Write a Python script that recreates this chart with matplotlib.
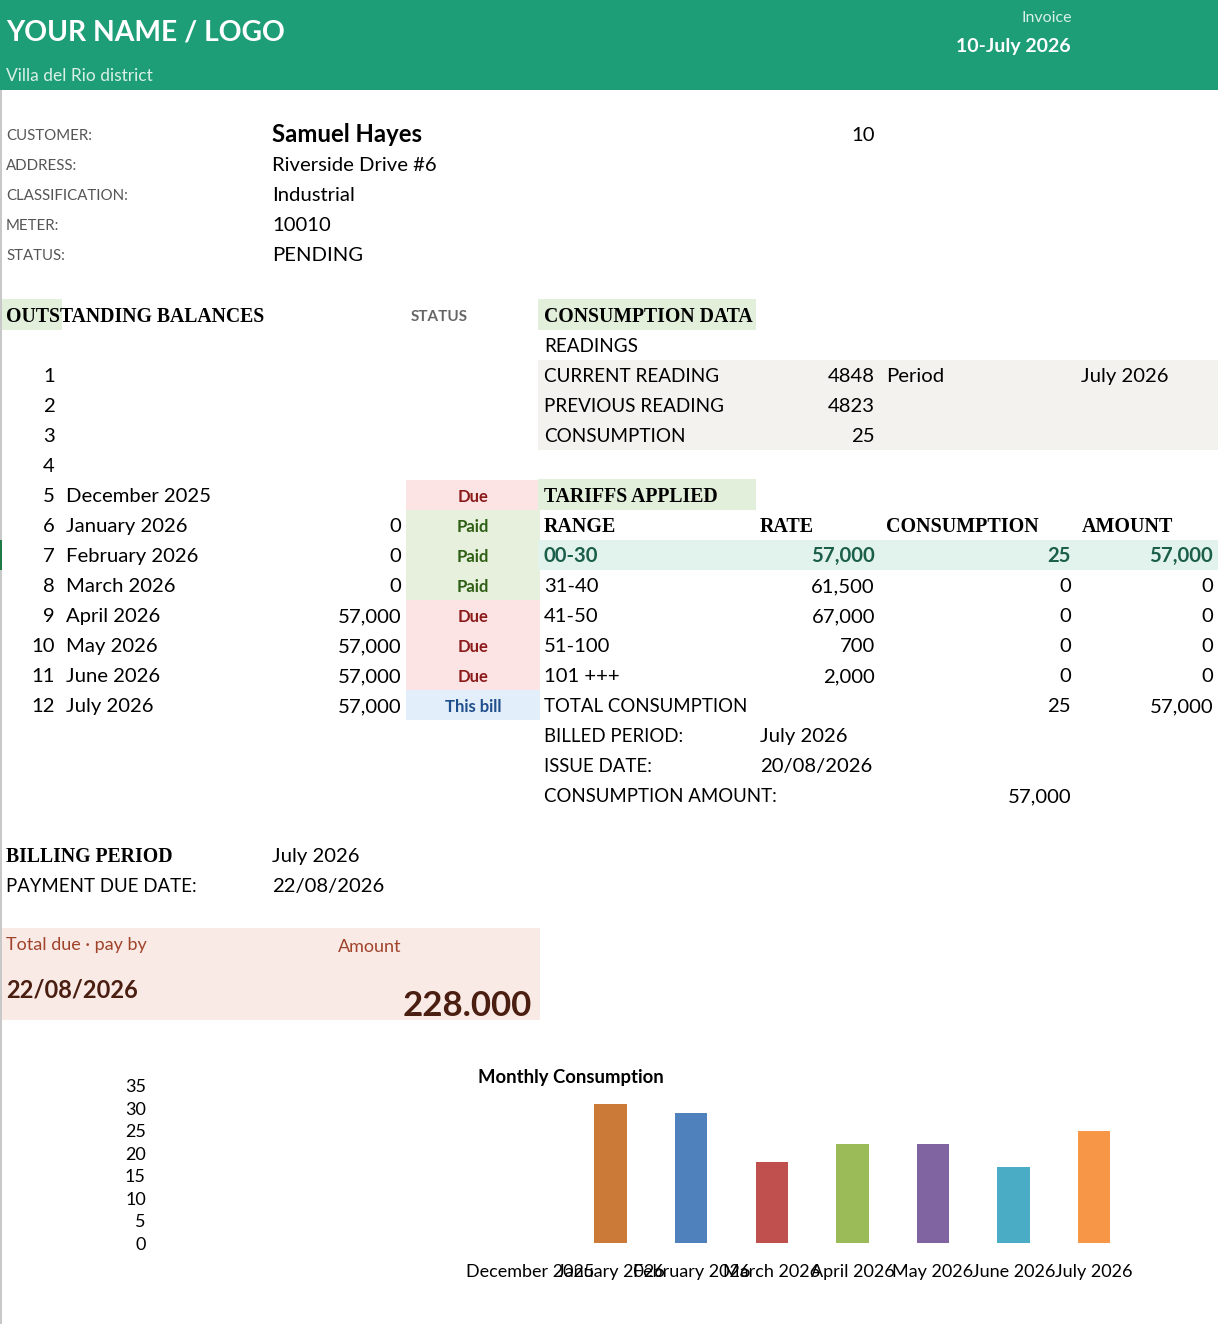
import matplotlib
matplotlib.use("Agg")
import matplotlib.pyplot as plt
from matplotlib.patches import Rectangle

# ---- data read from the invoice ----
header_title = "YOUR NAME / LOGO"
header_district = "Villa del Rio district"
invoice_date = "10-July 2026"
invoice_number = 10

customer_labels = ["CUSTOMER:", "ADDRESS:", "CLASSIFICATION:", "METER:", "STATUS:"]
customer_values = ["Samuel Hayes", "Riverside Drive #6", "Industrial", "10010", "PENDING"]

balance_index = list(range(1, 13))
balance_months = ["", "", "", "", "December 2025", "January 2026", "February 2026",
                  "March 2026", "April 2026", "May 2026", "June 2026", "July 2026"]
balance_amounts = [None, None, None, None, None, 0, 0, 0, 57000, 57000, 57000, 57000]
balance_status = [None, None, None, None, "Due", "Paid", "Paid", "Paid",
                  "Due", "Due", "Due", "This bill"]

reading_labels = ["CURRENT READING", "PREVIOUS READING", "CONSUMPTION"]
reading_values = [4848, 4823, 25]
reading_period = "July 2026"

tariff_ranges = ["00-30", "31-40", "41-50", "51-100", "101 +++"]
tariff_rates = [57000, 61500, 67000, 700, 2000]
tariff_consumption = [25, 0, 0, 0, 0]
tariff_amounts = [57000, 0, 0, 0, 0]
total_consumption = 25
total_amount = 57000
billed_period = "July 2026"
issue_date = "20/08/2026"
consumption_amount = 57000
payment_due = "22/08/2026"
total_due = "228.000"

chart_months = ["December 2025", "January 2026", "February 2026", "March 2026",
                "April 2026", "May 2026", "June 2026", "July 2026"]
chart_values = [0, 31, 29, 18, 22, 22, 17, 25]
chart_colors = ["#C0504D", "#CB7A38", "#4F81BD", "#C0504D", "#9BBB59",
                "#8064A2", "#4BACC6", "#F79646"]

SANS = ["Lato", "DejaVu Sans"]
SERIF = ["Liberation Serif", "DejaVu Serif"]
plt.rcParams['font.family'] = SANS

W, H = 1218, 1324
fig = plt.figure(figsize=(W / 100, H / 100), dpi=100)
ax = fig.add_axes([0, 0, 1, 1])
ax.set_xlim(0, W)
ax.set_ylim(H, 0)
ax.axis('off')


def box(x0, y0, x1, y1, color):
    ax.add_patch(Rectangle((x0, y0), x1 - x0, y1 - y0, facecolor=color, edgecolor='none', zorder=0))


def txt(x, y, s, size=14.6, color='black', ha='left', weight='normal', family=SANS):
    ax.text(x, y, s, fontsize=size, color=color, ha=ha, va='baseline',
            fontweight=weight, family=family)


def fmt(v):
    return f"{v:,}"


# header band
box(0, 0, W, 90, "#1E9E76")
txt(6, 40, header_title, size=20.3, color='white', weight='bold')
txt(6, 81, header_district, size=12.5, color='#D8F0E6')
txt(1072, 22, "Invoice", size=11.5, color='#D8F0E6', ha='right')
txt(1071, 52, invoice_date, size=14, color='white', ha='right', weight='bold')

# left edge line + selected row marker
box(0, 90, 2, H, "#C8C8C8")
box(0, 540, 2, 570, "#1E7B45")

# customer block
row0 = 134
for i, (lab, val) in enumerate(zip(customer_labels, customer_values)):
    y = row0 + 30 * i
    txt(6, y + 6, lab, size=10.8, color='#555555')
    if i == 0:
        txt(272, y + 8, val, size=17.2, weight='bold')
    else:
        txt(272, y + 7, val)
txt(875, row0 + 7, str(invoice_number), ha='right')

# outstanding balances
box(2, 299, 62, 330, "#E2EFDA")
txt(6, 322, "OUTSTANDING BALANCES", size=14.2, weight='bold', family=SERIF)
txt(439, 321, "STATUS", size=11, color='#666666', ha='center', weight='bold')

status_style = {"Due": ("#FCE4E4", "#8B1A1A"),
                "Paid": ("#E6F0DC", "#2E5E14"),
                "This bill": ("#E2EEF9", "#1F4E8C")}
for i in range(12):
    y = 375 + 30 * i
    txt(55, y + 7, str(balance_index[i]), ha='right')
    if balance_months[i]:
        txt(66, y + 7, balance_months[i])
    if balance_amounts[i] is not None:
        txt(401, y + 7, fmt(balance_amounts[i]), ha='right')
    if balance_status[i]:
        bg, fg = status_style[balance_status[i]]
        box(406, y - 15, 540, y + 15, bg)
        txt(473, y + 7, balance_status[i], size=12, color=fg, ha='center', weight='bold')

# consumption data
box(538, 299, 756, 330, "#E2EFDA")
txt(544, 322, "CONSUMPTION DATA", size=14.2, weight='bold', family=SERIF)
txt(544, 352, "READINGS", size=13.6)
box(538, 360, W, 450, "#F3F2EE")
for i, (lab, val) in enumerate(zip(reading_labels, reading_values)):
    y = 375 + 30 * i
    txt(544, y + 7, lab, size=13.6)
    txt(875, y + 7, str(val), ha='right')
txt(886, 382, "Period")
txt(1081, 382, reading_period)

# tariffs
box(538, 479, 756, 510, "#E2EFDA")
txt(544, 502, "TARIFFS APPLIED", size=14.2, weight='bold', family=SERIF)
for x, s in zip([544, 760, 886, 1082], ["RANGE", "RATE", "CONSUMPTION", "AMOUNT"]):
    txt(x, 532, s, size=14.4, weight='bold', family=SERIF)
for i in range(len(tariff_ranges)):
    y = 555 + 30 * i
    if i == 0:
        box(538, y - 15, W, y + 15, "#E1F3EC")
        kw = dict(weight='bold', color='#1B5E4A')
    else:
        kw = {}
    txt(544, y + 7, tariff_ranges[i], **kw)
    txt(875, y + 7, fmt(tariff_rates[i]), ha='right', **kw)
    txt(1071, y + 7, fmt(tariff_consumption[i]), ha='right', **kw)
    txt(1213, y + 7, fmt(tariff_amounts[i]), ha='right', **kw)
txt(544, 712, "TOTAL CONSUMPTION", size=13.4)
txt(1071, 712, fmt(total_consumption), ha='right')
txt(1213, 712, fmt(total_amount), ha='right')
txt(544, 742, "BILLED PERIOD:", size=13.4)
txt(760, 742, billed_period)
txt(544, 772, "ISSUE DATE:", size=13.4)
txt(760, 772, issue_date)
txt(544, 802, "CONSUMPTION AMOUNT:", size=13.4)
txt(1071, 802, fmt(consumption_amount), ha='right')

# billing period
txt(6, 862, "BILLING PERIOD", size=14.2, weight='bold', family=SERIF)
txt(272, 862, billed_period)
txt(6, 892, "PAYMENT DUE DATE:", size=13.4)
txt(272, 892, payment_due)

# total due box
box(2, 928, 540, 1020, "#F9EAE6")
txt(6, 950, "Total due \u00b7 pay by", size=13, color='#A0432A')
txt(338, 952, "Amount", size=13, color='#A0432A')
txt(6, 998, payment_due, size=17, color='#4A1E10', weight='bold')
txt(532, 1016, total_due, size=25, color='#4A1E10', ha='right', weight='bold')

# ---- monthly consumption chart ----
L, R = 150, 1150
step = 80.6
x_left = -(530 - L) / step
x_right = x_left + (R - L) / step
cax = fig.add_axes([L / W, (H - 1243) / H, (R - L) / W, 157 / H])
cax.bar(range(len(chart_values)), chart_values, width=0.4, color=chart_colors)
cax.set_xlim(x_left, x_right)
cax.set_ylim(0, 35)
cax.set_yticks(range(0, 36, 5))
cax.set_xticks(range(len(chart_months)))
cax.set_xticklabels(chart_months, fontsize=13)
cax.tick_params(axis='y', length=0, labelsize=13, pad=3)
cax.tick_params(axis='x', length=0, pad=15)
for sp in cax.spines.values():
    sp.set_visible(False)
cax.patch.set_alpha(0)
ax.text(571, 1083, "Monthly Consumption", fontsize=13.3, fontweight='bold',
        ha='center', va='baseline')

fig.savefig("out.png", dpi=100)
